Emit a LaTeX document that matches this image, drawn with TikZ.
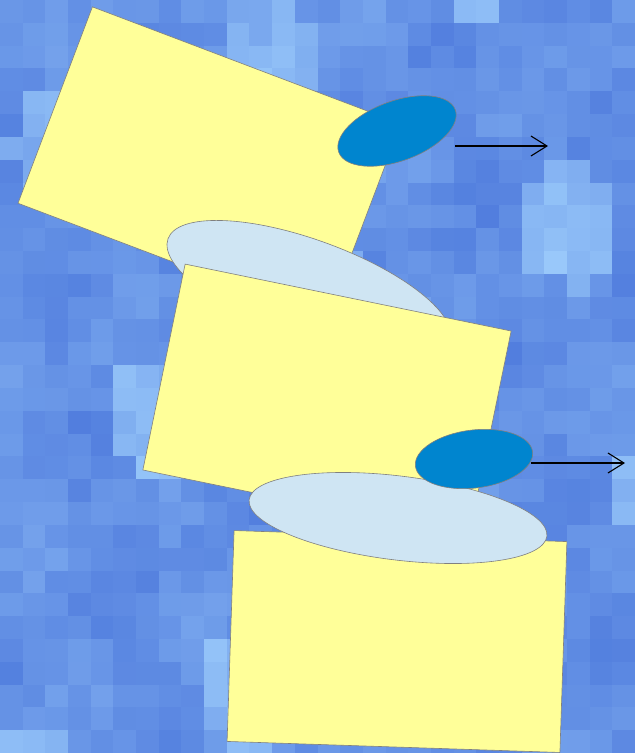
\documentclass[tikz,border=0pt]{standalone}
\usetikzlibrary{shapes.geometric, arrows.meta}

\definecolor{bgdark}{RGB}{82,126,222}
\definecolor{bglight}{RGB}{158,206,252}
\definecolor{notefill}{RGB}{255,255,153}
\definecolor{lensfill}{RGB}{207,229,243}
\definecolor{blobfill}{RGB}{0,133,207}
\definecolor{edgegray}{RGB}{128,128,128}

\begin{document}
\begin{tikzpicture}[
			x=1pt, y=-1pt,
			card/.style={draw=edgegray, fill=notefill, line width=0.6pt, rectangle, inner sep=0pt, outer sep=0pt},
			lens/.style={draw=edgegray, fill=lensfill, line width=0.6pt, ellipse, inner sep=0pt, outer sep=0pt},
			blob/.style={draw=edgegray, fill=blobfill, line width=0.6pt, ellipse, inner sep=0pt, outer sep=0pt},
			arr/.style={-{Straight Barb[length=16pt, width=20pt]}, line width=1.1pt},
		]
		\useasboundingbox (0,0) rectangle (635,753);

		% Mosaic background
		\begin{scope}
			\clip (0,0) rectangle (635,753);
			\pgfmathsetseed{11}
			\foreach \i in {0,...,27}{
				\foreach \j in {0,...,32}{
					\pgfmathtruncatemacro{\p}{max(0,min(100,24+14*sin(41*\i+17*\j)*cos(31*\j-13*\i)+12*rand+45*(sin(23*\i+7*\j)*sin(19*\j-11*\i)>0.6)))}
					\fill[bglight!\p!bgdark] (\i*22.68,\j*22.82) rectangle ++(23,23);
				}
			}
		\end{scope}

		% Top card
		\node[card, minimum width=330pt, minimum height=210pt, rotate=-20.75] (note1) at (209.5,163.5) {};
		\node[blob, minimum width=124pt, minimum height=60pt, rotate=20] (spot1) at (397,131) {};
		\node[lens, minimum width=300pt, minimum height=100pt, rotate=-20] (lens1) at (309,290) {};

		% Middle card
		\node[card, minimum width=332.8pt, minimum height=210.2pt, rotate=-11.6] (note2) at (327,400.5) {};

		% Bottom card
		\node[card, minimum width=333pt, minimum height=211pt, rotate=-1.9] (note3) at (397,641.5) {};
		\node[lens, minimum width=300pt, minimum height=84pt, rotate=-7] (lens2) at (398,518) {};
		\node[blob, minimum width=118pt, minimum height=58pt, rotate=7] (spot2) at (474,459) {};

		% Arrows
		\coordinate (out1) at (548,146);
		\coordinate (out2) at (625,463);
		\draw[arr, shorten <=58pt] (spot1.center |- out1) -- (out1);
		\draw[arr, shorten <=57pt] (spot2.center |- out2) -- (out2);
	\end{tikzpicture}
\end{document}
